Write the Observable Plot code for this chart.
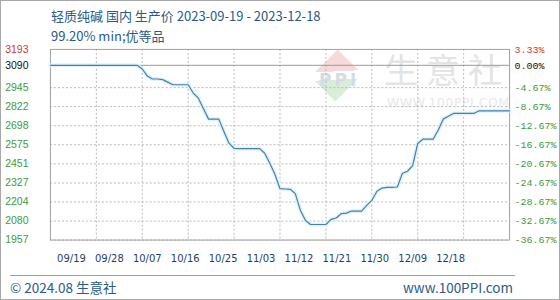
<!DOCTYPE html>
<html>
<head>
<meta charset="utf-8">
<script src="https://cdn.jsdelivr.net/npm/d3@7"></script>
<script src="https://cdn.jsdelivr.net/npm/@observablehq/plot@0.6"></script>
<style>
  html, body { margin: 0; padding: 0; background: #fff; }
  #wrap { position: relative; width: 560px; height: 300px; box-sizing: border-box; border: 1px solid #a8a8a8; overflow: hidden; background: #fff; }
  .abs { position: absolute; white-space: nowrap; }
  .ttl { font-family: "Noto Sans CJK SC", sans-serif; font-size: 13px; color: #2a5a85; line-height: 16px; }
  .wm { font-family: "Noto Sans CJK SC", sans-serif; color: #e4e4e4; }
</style>
</head>
<body>
<div id="wrap">
  <div class="abs ttl" style="left:50px; top:7px;">轻质纯碱 国内 生产价 2023-09-19 - 2023-12-18</div>
  <div class="abs ttl" style="left:50px; top:27px;">99.20% min;优等品</div>

  <!-- watermark -->
  <div class="abs" style="left:318px; top:57px; width:35px; height:35px; transform: rotate(45deg) scale(1,1.1); background: linear-gradient(135deg, #f6d9d9 0%, #f6d9d9 42%, #ffffff 42%, #ffffff 58%, #d9eed9 58%, #d9eed9 100%);"></div>
  <div class="abs wm" style="left:318px; top:69px; font-size:17px; font-weight:bold; color:#d5dbe6; letter-spacing:3px; font-family:'DejaVu Sans', sans-serif;">PPI</div>
  <div class="abs wm" style="left:383px; top:46px; font-size:34px; letter-spacing:8px; line-height:44px;">生意社</div>
  <div class="abs wm" style="left:386px; top:94px; font-size:12.5px; letter-spacing:0.5px; font-family:'DejaVu Sans', sans-serif; color:#e8e8e8;">WWW.100PPI.COM</div>

  <div id="main" class="abs" style="left:-1px; top:-1px;"></div>
  <div id="xlab" class="abs" style="left:-1px; top:246px;"></div>

  <div class="abs" style="left:9px; top:274px; width:505px; border-top:1px solid #a0a0a0;"></div>
  <div class="abs ttl" style="left:9px; top:277px; font-size:13.5px; line-height:18px;">© 2024.08 生意社</div>
  <div class="abs ttl" style="right:46px; top:277px; font-size:13.5px; line-height:18px;">www.100PPI.com</div>
</div>
<script>
// ---- data ----
const startDate = "2023-09-19";
const endDate = "2023-12-18";
const prices = [
  3090,3090,3090,3090,3090,3090,3090,3090,3090,3090,
  3090,3090,3090,3090,3090,3090,3090,3090,3066,3020,
  3001,3001,2997,2981,2964,2964,2964,2964,2910,2877,
  2809,2741,2741,2741,2661,2585,2552,2550,2550,2550,
  2550,2550,2520,2455,2383,2290,2288,2286,2258,2149,
  2084,2058,2058,2058,2058,2091,2100,2128,2132,2145,
  2145,2145,2182,2214,2273,2294,2299,2299,2301,2390,
  2403,2440,2583,2611,2611,2611,2669,2741,2760,2778,
  2778,2778,2778,2778,2795,2795,2795,2795,2795,2795,
  2795
];
const baseValue = 3090;
const topValue = 3193;
const gridValues = [2945, 2822, 2698, 2575, 2451, 2327, 2204, 2080, 1957];
const pctTop = "3.33%";
const pctBase = "0.00%";
const pctLabels = ["-4.67%","-8.67%","-12.67%","-16.67%","-20.67%","-24.67%","-28.67%","-32.67%","-36.67%"];
const xTickDates = ["2023-09-19","2023-09-28","2023-10-07","2023-10-16","2023-10-25","2023-11-03","2023-11-12","2023-11-21","2023-11-30","2023-12-09","2023-12-18"];
const xTickLabels = ["09/19","09/28","10/07","10/16","10/25","11/03","11/12","11/21","11/30","12/09","12/18"];

// build table
const days = d3.utcDay.range(new Date(startDate), d3.utcDay.offset(new Date(endDate), 1));
const series = days.map((d, i) => ({date: d, value: prices[i]}));
const xTicks = xTickDates.map(s => new Date(s));
const pctMap = new Map(gridValues.map((v, i) => [v, pctLabels[i]]));
pctMap.set(baseValue, pctBase); pctMap.set(topValue, pctTop);

const green = "#3c9a3c", red = "#cc3a3a";
const leftFont = {fontSize: 10.5, fontFamily: "'Liberation Sans', Arial, sans-serif"};
const rightFont = {fontSize: 10, fontFamily: "'Liberation Mono', 'DejaVu Sans Mono', monospace"};
const plain = v => String(v);
const pct = v => pctMap.get(v);
const gridStyle = {stroke: "#b8b8b8", strokeWidth: 1, strokeDasharray: "2,2"};

const main = Plot.plot({
  width: 560, height: 300,
  marginTop: 49, marginBottom: 60, marginLeft: 50, marginRight: 50,
  style: {overflow: "visible"},
  x: {type: "utc", domain: [new Date(startDate), new Date(endDate)], axis: null},
  y: {domain: [1957, 3193], axis: null},
  marks: [
    Plot.ruleY(gridValues, gridStyle),
    Plot.ruleX(xTicks.slice(1, -1), gridStyle),
    Plot.ruleY([baseValue], {stroke: "#9a9a9a", strokeWidth: 1}),
    Plot.frame({stroke: "#a0a0a0"}),
    Plot.line(series, {x: "date", y: "value", stroke: "#dff2fb", strokeWidth: 4}),
    Plot.line(series, {x: "date", y: "value", stroke: "#4680ad", strokeWidth: 1.2}),
    // left axis
    Plot.axisY({anchor: "left", label: null, ticks: [topValue], tickSize: 0, tickPadding: 22, tickFormat: plain, fill: red, ...leftFont}),
    Plot.axisY({anchor: "left", label: null, ticks: [baseValue], tickSize: 0, tickPadding: 22, tickFormat: plain, fill: "#111", ...leftFont}),
    Plot.axisY({anchor: "left", label: null, ticks: gridValues, tickSize: 0, tickPadding: 22, tickFormat: plain, fill: green, ...leftFont}),
    // right axis
    Plot.axisY({anchor: "right", label: null, ticks: [topValue], tickSize: 0, tickPadding: 5, fill: red, tickFormat: pct, ...rightFont}),
    Plot.axisY({anchor: "right", label: null, ticks: [baseValue], tickSize: 0, tickPadding: 5, fill: "#111", tickFormat: pct, ...rightFont}),
    Plot.axisY({anchor: "right", label: null, ticks: gridValues, tickSize: 0, tickPadding: 5, fill: green, tickFormat: pct, ...rightFont})
  ]
});
main.style.background = "transparent";
document.getElementById("main").appendChild(main);

const xlab = Plot.plot({
  width: 560, height: 22,
  marginTop: 0, marginBottom: 0, marginLeft: 0, marginRight: 0,
  style: {overflow: "visible"},
  x: {type: "point", domain: xTickLabels, range: [47, 475], axis: null},
  marks: [
    Plot.text(xTickLabels, {x: d => d, frameAnchor: "middle", fill: "#1e3f66", fontSize: 10, fontFamily: "'DejaVu Sans', sans-serif"})
  ]
});
xlab.style.background = "transparent";
document.getElementById("xlab").appendChild(xlab);
</script>
</body>
</html>
